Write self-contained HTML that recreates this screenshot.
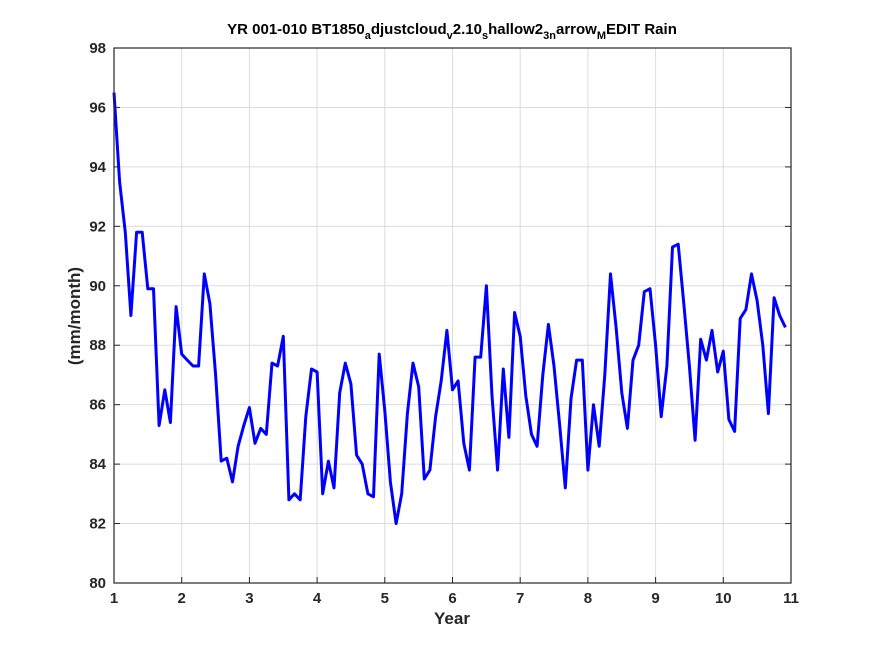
<!DOCTYPE html>
<html><head><meta charset="utf-8"><style>
html,body{margin:0;padding:0;background:#fff;}
svg{display:block;font-family:"Liberation Sans",sans-serif;}
</style></head><body>
<svg id="chart" width="875" height="656" viewBox="0 0 875 656" xmlns="http://www.w3.org/2000/svg">
<rect x="0" y="0" width="875" height="656" fill="#fff"/>
<rect x="114" y="48" width="677" height="535" fill="#fff"/>
<g id="grid"></g>
<g id="ticks"></g>
<polyline id="line" fill="none" stroke="#0000ff" stroke-width="3" stroke-linejoin="round"/>
<rect x="114" y="48" width="677" height="535" fill="none" stroke="#262626" stroke-width="1.2"/>
<text x="452" y="34" text-anchor="middle" font-size="15" font-weight="bold" fill="#000">YR 001-010 BT1850<tspan font-size="11" dy="5">a</tspan><tspan dy="-5">djustcloud</tspan><tspan font-size="11" dy="5">v</tspan><tspan dy="-5">2.10</tspan><tspan font-size="11" dy="5">s</tspan><tspan dy="-5">hallow2</tspan><tspan font-size="11" dy="5">3n</tspan><tspan dy="-5">arrow</tspan><tspan font-size="11" dy="5">M</tspan><tspan dy="-5">EDIT Rain</tspan></text>
<text x="452" y="624" text-anchor="middle" font-size="17" font-weight="bold" fill="#262626">Year</text>
<text transform="translate(80,316) rotate(-90)" text-anchor="middle" font-size="17" font-weight="bold" fill="#262626">(mm/month)</text>
</svg>
<script>
const xTicks = [1,2,3,4,5,6,7,8,9,10,11];
const yTicks = [80,82,84,86,88,90,92,94,96,98];
const startYear = 1;
const rain = [
96.5,93.5,91.8,89.0,91.8,91.8,89.9,89.9,85.3,86.5,85.4,89.3,
87.7,87.5,87.3,87.3,90.4,89.4,87.0,84.1,84.2,83.4,84.6,85.3,
85.9,84.7,85.2,85.0,87.4,87.3,88.3,82.8,83.0,82.8,85.6,87.2,
87.1,83.0,84.1,83.2,86.4,87.4,86.7,84.3,84.0,83.0,82.9,87.7,
85.8,83.4,82.0,83.0,85.7,87.4,86.6,83.5,83.8,85.6,86.8,88.5,
86.5,86.8,84.7,83.8,87.6,87.6,90.0,86.3,83.8,87.2,84.9,89.1,
88.3,86.3,85.0,84.6,87.0,88.7,87.3,85.3,83.2,86.2,87.5,87.5,
83.8,86.0,84.6,87.0,90.4,88.6,86.4,85.2,87.5,88.0,89.8,89.9,
88.0,85.6,87.3,91.3,91.4,89.4,87.3,84.8,88.2,87.5,88.5,87.1,
87.8,85.5,85.1,88.9,89.2,90.4,89.5,88.0,85.7,89.6,89.0,88.6
];
const X0=114,X1=791,Y0=583,Y1=48;
function xs(v){return X0+(v-1)/(11-1)*(X1-X0);}
function ys(v){return Y0-(v-80)/(98-80)*(Y0-Y1);}
const NS="http://www.w3.org/2000/svg";
const grid=document.getElementById('grid'), ticks=document.getElementById('ticks');
function mk(tag,attrs,parent){const e=document.createElementNS(NS,tag);for(const k in attrs)e.setAttribute(k,attrs[k]);parent.appendChild(e);return e;}
xTicks.forEach(t=>{
  const x=xs(t);
  const g=mk('line',{x1:x,x2:x,y1:Y1,y2:Y0,stroke:'#dcdcdc','stroke-width':1},grid);
  
  
  const tk=mk('line',{x1:x,x2:x,y1:Y0,y2:Y0-6,stroke:'#262626','stroke-width':1},ticks);
  
  
  const tx=mk('text',{x:x,y:Y0+20,'text-anchor':'middle','font-size':15,'font-weight':'bold',fill:'#262626'},ticks);
  tx.textContent=t;
  
  
});
yTicks.forEach(t=>{
  const y=ys(t);
  const g=mk('line',{x1:X0,x2:X1,y1:y,y2:y,stroke:'#dcdcdc','stroke-width':1},grid);
  
  
  const tk=mk('line',{x1:X0,x2:X0+6,y1:y,y2:y,stroke:'#262626','stroke-width':1},ticks);
  
  
  const tk2=mk('line',{x1:X1,x2:X1-6,y1:y,y2:y,stroke:'#262626','stroke-width':1},ticks);
  
  
  const tx=mk('text',{x:X0-8,y:y+5,'text-anchor':'end','font-size':15,'font-weight':'bold',fill:'#262626'},ticks);
  tx.textContent=t;
  
  
});
document.getElementById('line').setAttribute('points',rain.map((v,i)=>xs(startYear+i/12).toFixed(1)+','+ys(v).toFixed(1)).join(' '));
</script>
</body></html>
